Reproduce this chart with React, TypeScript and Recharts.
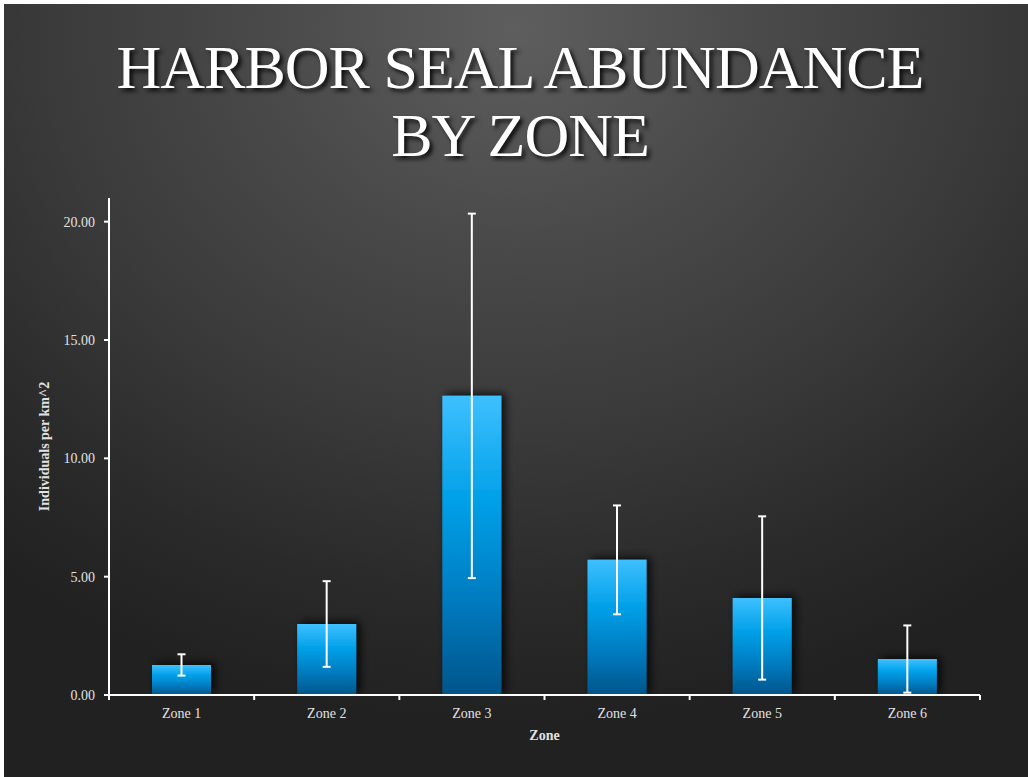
import React from 'react';
import { BarChart, Bar, XAxis, YAxis, ErrorBar } from 'recharts';

const zones = ['Zone 1', 'Zone 2', 'Zone 3', 'Zone 4', 'Zone 5', 'Zone 6'];
const abundance = [1.27, 3.0, 12.64, 5.71, 4.1, 1.52];
const stdErr = [0.45, 1.81, 7.7, 2.3, 3.45, 1.42];
const yTicks = [0, 5, 10, 15, 20];
const yMax = 21;

const data = zones.map((z, i) => ({ zone: z, value: abundance[i], err: stdErr[i] }));

const W = 1028;
const H = 777;
const M = { top: 198, right: 48, bottom: 32, left: 49 };
const Y_AXIS_W = 60;
const X_AXIS_H = 50;
const PLOT_W = W - M.left - M.right - Y_AXIS_W;
const FONT = '"Liberation Serif", "Times New Roman", serif';
const TICK_COLOR = '#e2e2e2';

function XTick(props: any) {
  const { x, y, payload, index } = props;
  const band = PLOT_W / zones.length;
  return (
    <g>
      {index === 0 && (
        <line x1={x - band / 2} y1={y} x2={x - band / 2} y2={y + 5} stroke="#fff" strokeWidth={2} />
      )}
      <line x1={x + band / 2} y1={y} x2={x + band / 2} y2={y + 5} stroke="#fff" strokeWidth={2} />
      <text x={x} y={y + 23} textAnchor="middle" fill={TICK_COLOR} fontSize={14} fontFamily={FONT}>
        {payload.value}
      </text>
    </g>
  );
}

function YLabel(props: any) {
  const vb = props.viewBox || {};
  const cx = vb.x - 5;
  const cy = vb.y + vb.height / 2;
  return (
    <text
      x={cx}
      y={cy}
      transform={`rotate(-90 ${cx} ${cy})`}
      textAnchor="middle"
      dominantBaseline="central"
      fill={TICK_COLOR}
      fontSize={14}
      fontWeight="bold"
      fontFamily={FONT}
    >
      Individuals per km^2
    </text>
  );
}

function XLabel(props: any) {
  const vb = props.viewBox || {};
  return (
    <text
      x={vb.x + vb.width / 2}
      y={vb.y + 45}
      textAnchor="middle"
      fill={TICK_COLOR}
      fontSize={14}
      fontWeight="bold"
      fontFamily={FONT}
    >
      Zone
    </text>
  );
}

export default function App() {
  return (
    <div
      style={{
        position: 'absolute',
        left: 0,
        top: 0,
        width: W,
        height: H,
        background: '#ffffff',
        overflow: 'hidden',
      }}
    >
      <div
        style={{
          position: 'absolute',
          left: 4,
          top: 4,
          width: W - 4,
          height: H - 4,
          background:
            'radial-gradient(ellipse 80% 90% at 50% 3%, #5e5e5e 0%, #4a4a4a 30%, #3a3a3a 58%, #2a2a2a 82%, #212121 100%)',
        }}
      />
      <div
        style={{
          position: 'absolute',
          left: 0,
          top: 33,
          width: 1040,
          textAlign: 'center',
          fontFamily: FONT,
          fontSize: 62,
          lineHeight: '68px',
          letterSpacing: '-1px',
          color: '#ffffff',
          textShadow: '3px 3px 4px rgba(0,0,0,0.85)',
        }}
      >
        HARBOR SEAL ABUNDANCE
        <br />
        BY ZONE
      </div>
      <div style={{ position: 'absolute', left: 0, top: 0 }}>
        <BarChart width={W} height={H} data={data} margin={M} barCategoryGap="30%">
          <defs>
            <linearGradient id="barGrad" x1="0" y1="0" x2="0" y2="1">
              <stop offset="0%" stopColor="#3ec0ff" />
              <stop offset="35%" stopColor="#00a0e8" />
              <stop offset="70%" stopColor="#0079bd" />
              <stop offset="100%" stopColor="#00558a" />
            </linearGradient>
            <filter id="barShadow" x="-30%" y="-30%" width="160%" height="160%">
              <feDropShadow dx="4" dy="-2" stdDeviation="4" floodColor="#000" floodOpacity="0.8" />
            </filter>
          </defs>
          <XAxis
            dataKey="zone"
            height={X_AXIS_H}
            axisLine={{ stroke: '#ffffff', strokeWidth: 2 }}
            tickLine={false}
            tickSize={0}
            tickMargin={0}
            tick={<XTick />}
            interval={0}
            label={(p: any) => <XLabel {...p} />}
          />
          <YAxis
            width={Y_AXIS_W}
            domain={[0, yMax]}
            ticks={yTicks}
            allowDataOverflow
            tickFormatter={(v: number) => v.toFixed(2)}
            axisLine={{ stroke: '#ffffff', strokeWidth: 2 }}
            tickLine={{ stroke: '#ffffff', strokeWidth: 2 }}
            tickSize={5}
            tickMargin={9}
            tick={{ fill: TICK_COLOR, fontSize: 14, fontFamily: FONT }}
            label={(p: any) => <YLabel {...p} />}
          />
          <Bar
            dataKey="value"
            fill="url(#barGrad)"
            barSize={59}
            isAnimationActive={false}
            style={{ filter: 'url(#barShadow)' }}
          >
            <ErrorBar dataKey="err" width={4} stroke="#ffffff" strokeWidth={2} direction="y" />
          </Bar>
        </BarChart>
      </div>
    </div>
  );
}
